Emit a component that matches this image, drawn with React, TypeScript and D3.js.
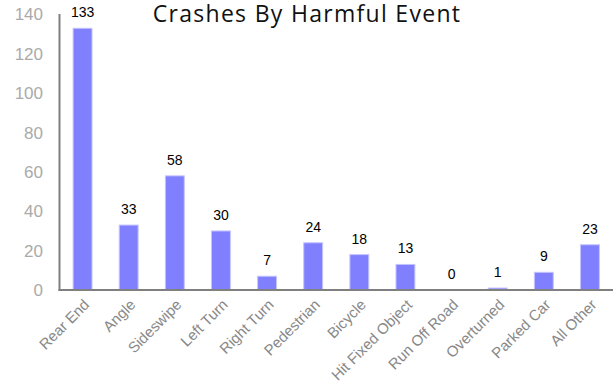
import { useEffect, useRef } from 'react'
import * as d3 from 'd3'

const categories = [
  'Rear End', 'Angle', 'Sideswipe', 'Left Turn', 'Right Turn', 'Pedestrian',
  'Bicycle', 'Hit Fixed Object', 'Run Off Road', 'Overturned', 'Parked Car', 'All Other',
]
const crashCounts = [133, 33, 58, 30, 7, 24, 18, 13, 0, 1, 9, 23]
const yTicks = [0, 20, 40, 60, 80, 100, 120, 140]

export default function App() {
  const svgRef = useRef<SVGSVGElement>(null)
  const width = 613
  const height = 385

  useEffect(() => {
    if (!svgRef.current) return
    const svg = d3.select(svgRef.current)
    svg.selectAll('*').remove()

    const x = d3.scaleBand<string>()
      .domain(categories)
      .range([59.5, 613])
      .paddingInner(0.59)
      .paddingOuter(0.295)

    const y = d3.scaleLinear().domain([0, 140]).range([290, 14.5])

    // Title
    svg.append('text')
      .attr('x', 307)
      .attr('y', 22)
      .attr('text-anchor', 'middle')
      .style('font-family', '"Open Sans", Lato, sans-serif')
      .style('font-size', '23px')
      .style('letter-spacing', '1.3px')
      .style('fill', '#111')
      .text('Crashes By Harmful Event')

    // Y tick labels
    svg.append('g')
      .selectAll('text')
      .data(yTicks)
      .enter().append('text')
      .attr('x', 43)
      .attr('y', d => y(d))
      .attr('dy', '0.35em')
      .attr('text-anchor', 'end')
      .style('font-family', '"Liberation Sans", Arial, sans-serif')
      .style('font-size', '17px')
      .style('fill', '#aaaaaa')
      .text(d => d)

    // Bars
    svg.append('g')
      .selectAll('rect')
      .data(crashCounts)
      .enter().append('rect')
      .attr('x', (d, i) => x(categories[i])!)
      .attr('y', d => y(d))
      .attr('width', x.bandwidth())
      .attr('height', d => y(0) - y(d))
      .attr('fill', '#8080ff')
      .attr('stroke', '#c4c4ff')
      .attr('stroke-width', 1)

    // Value labels
    svg.append('g')
      .selectAll('text')
      .data(crashCounts)
      .enter().append('text')
      .attr('x', (d, i) => x(categories[i])! + x.bandwidth() / 2)
      .attr('y', d => y(d) - 11)
      .attr('text-anchor', 'middle')
      .style('font-family', '"Liberation Sans", Arial, sans-serif')
      .style('font-size', '14px')
      .style('fill', '#000')
      .text(d => d)

    // Axis lines
    svg.append('line')
      .attr('x1', 59.5).attr('x2', 59.5)
      .attr('y1', 14).attr('y2', 291)
      .attr('stroke', '#808080').attr('stroke-width', 2)
    svg.append('line')
      .attr('x1', 58.5).attr('x2', 613)
      .attr('y1', 290).attr('y2', 290)
      .attr('stroke', '#808080').attr('stroke-width', 2)

    // X labels, rotated
    svg.append('g')
      .selectAll('text')
      .data(categories)
      .enter().append('text')
      .attr('transform', d => `translate(${x(d)! + x.bandwidth() / 2 + 4}, 302) rotate(-45)`)
      .attr('text-anchor', 'end')
      .attr('dy', '0.35em')
      .style('font-family', '"Liberation Sans", Arial, sans-serif')
      .style('font-size', '15px')
      .style('fill', '#888888')
      .text(d => d)
  }, [])

  return (
    <svg
      ref={svgRef}
      width={width}
      height={height}
      style={{ position: 'absolute', left: 0, top: 0, background: '#fff' }}
    />
  )
}
